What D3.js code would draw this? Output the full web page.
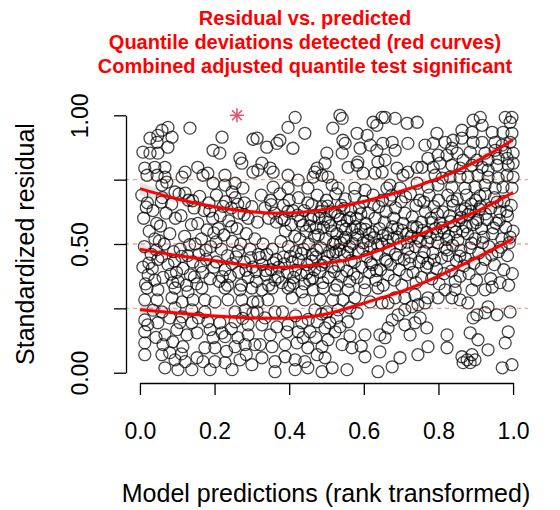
<!DOCTYPE html>
<html>
<head>
<meta charset="utf-8">
<script src="https://cdn.jsdelivr.net/npm/d3@7"></script>
<style>
  html, body { margin: 0; padding: 0; background: #fff; }
  svg { display: block; font-family: "Liberation Sans", Arial, Helvetica, sans-serif; }
</style>
</head>
<body>
<svg id="chart" width="560" height="510"></svg>
<script>
// Scaled (simulation-based) residuals against rank-transformed predictions
const titleLines = [
  "Residual vs. predicted",
  "Quantile deviations detected (red curves)",
  "Combined adjusted quantile test significant"
];
const xLabel = "Model predictions (rank transformed)";
const yLabel = "Standardized residual";

const xTicks = [0, 0.2, 0.4, 0.6, 0.8, 1.0];
const xTickLabels = ["0.0", "0.2", "0.4", "0.6", "0.8", "1.0"];
const yTicks = [0, 0.25, 0.5, 0.75, 1.0];
const yTickLabels = ["0.00", "", "0.50", "", "1.00"];

// reference quantile levels (dashed lines)
const refQuantiles = [0.25, 0.5, 0.75];

// fitted quantile regression curves and their confidence bands
const quantX = [0, 0.1, 0.2, 0.3, 0.4, 0.5, 0.6, 0.7, 0.8, 0.9, 1.0];
const q25 = [0.245, 0.232, 0.22, 0.213, 0.212, 0.228, 0.27, 0.315, 0.375, 0.445, 0.52];
const q50 = [0.48, 0.455, 0.435, 0.415, 0.41, 0.425, 0.455, 0.51, 0.565, 0.625, 0.70];
const q75 = [0.715, 0.675, 0.645, 0.625, 0.62, 0.635, 0.665, 0.705, 0.755, 0.82, 0.905];
const q25Lo = [0.225, 0.222, 0.21, 0.203, 0.202, 0.218, 0.26, 0.305, 0.365, 0.43, 0.50];
const q25Hi = [0.275, 0.245, 0.23, 0.223, 0.222, 0.238, 0.28, 0.325, 0.385, 0.46, 0.54];
const q50Lo = [0.46, 0.445, 0.425, 0.405, 0.40, 0.415, 0.445, 0.50, 0.55, 0.605, 0.67];
const q50Hi = [0.50, 0.465, 0.445, 0.425, 0.42, 0.435, 0.465, 0.52, 0.575, 0.64, 0.72];
const q75Lo = [0.69, 0.66, 0.635, 0.615, 0.61, 0.625, 0.655, 0.695, 0.745, 0.805, 0.885];
const q75Hi = [0.74, 0.69, 0.655, 0.635, 0.63, 0.645, 0.675, 0.715, 0.765, 0.835, 0.925];

// outlier (simulation envelope exceeded)
const outliers = [[0.26, 1.0]];

// observations: [rank-transformed prediction, scaled residual]
const residualsUpper = [
  [0.075,0.953],[0.059,0.942],[0.048,0.922],[0.027,0.911],[0.086,0.915],[0.046,0.895],[0.075,0.876],
  [0.008,0.857],[0.027,0.853],[0.048,0.853],[0.134,0.950],[0.22,0.915],[0.303,0.907],[0.196,0.864],
  [0.214,0.853],[0.268,0.833],[0.273,0.814],[0.303,0.779],[0.013,0.795],[0.04,0.798],[0.067,0.798],
  [0.019,0.767],[0.046,0.767],[0.067,0.76],[0.121,0.779],[0.155,0.798],[0.182,0.775],[0.228,0.767],
  [0.255,0.736],[0.276,0.717],[0.059,0.729],[0.072,0.74],[0.113,0.76],[0.169,0.767],[0.196,0.736],
  [0.228,0.729],[0.094,0.702],[0.121,0.698],[0.247,0.702],
  [0.416,0.992],[0.397,0.953],[0.442,0.93],[0.536,1.0],[0.542,0.988],[0.517,0.95],[0.625,0.973],
  [0.649,0.992],[0.635,0.961],[0.314,0.911],[0.34,0.876],[0.367,0.891],[0.375,0.903],[0.41,0.872],
  [0.501,0.853],[0.542,0.853],[0.544,0.903],[0.55,0.891],[0.582,0.93],[0.609,0.922],[0.59,0.872],
  [0.617,0.884],[0.651,0.891],[0.635,0.864],[0.327,0.814],[0.349,0.795],[0.316,0.787],[0.357,0.779],
  [0.496,0.814],[0.475,0.795],[0.469,0.779],[0.488,0.767],[0.504,0.76],[0.464,0.76],[0.558,0.798],
  [0.582,0.806],[0.584,0.818],[0.638,0.818],[0.649,0.779],[0.63,0.775],[0.598,0.775],[0.397,0.767],
  [0.357,0.721],[0.397,0.717],[0.424,0.748],[0.45,0.717],[0.515,0.729],[0.531,0.717],[0.576,0.717],
  [0.603,0.709],[0.662,0.717],
  [0.684,0.988],[0.716,0.969],[0.743,0.973],[0.657,0.992],[0.912,0.992],[0.893,0.981],[0.917,0.961],
  [0.979,0.992],[0.997,0.992],[0.992,0.973],[0.796,0.93],[0.863,0.942],[0.89,0.934],[0.944,0.934],
  [0.973,0.934],[0.997,0.93],[0.676,0.895],[0.684,0.864],[0.718,0.891],[0.764,0.884],[0.786,0.891],
  [0.818,0.895],[0.839,0.903],[0.863,0.911],[0.893,0.895],[0.917,0.895],[0.952,0.895],[0.971,0.884],
  [0.992,0.895],[0.836,0.872],[0.85,0.853],[0.885,0.857],[0.925,0.853],[0.952,0.864],[0.979,0.857],
  [1.0,0.853],[0.772,0.833],[0.799,0.845],[0.823,0.845],[0.866,0.826],[0.903,0.826],[0.933,0.826],
  [0.96,0.833],[0.984,0.833],[0.657,0.826],[0.689,0.795],[0.743,0.798],[0.756,0.798],[0.786,0.798],
  [0.804,0.814],[0.836,0.806],[0.858,0.795],[0.89,0.806],[0.917,0.798],[0.933,0.787],[0.957,0.806],
  [0.987,0.806],[1.0,0.814],[0.705,0.767],[0.718,0.779],[0.791,0.767],[0.81,0.756],[0.831,0.76],
  [0.858,0.76],[0.879,0.76],[0.906,0.767],[0.933,0.76],[0.96,0.756],[0.984,0.767],[1.0,0.76],
  [0.67,0.729],[0.697,0.717],[0.743,0.736],[0.772,0.721],[0.799,0.729],[0.836,0.721],[0.871,0.717],
  [0.898,0.721],[0.925,0.729],[0.952,0.717],[0.973,0.721],[0.997,0.717]
];

const residualsMiddle = [
  [0.005,0.69],[0.02,0.66],[0.035,0.63],[0.01,0.6],[0.045,0.58],[0.025,0.55],[0.04,0.52],[0.012,0.49],
  [0.03,0.46],[0.048,0.44],[0.008,0.41],[0.022,0.38],[0.04,0.36],[0.015,0.345],
  [0.06,0.68],[0.085,0.655],[0.07,0.62],[0.095,0.6],[0.055,0.57],[0.08,0.54],[0.065,0.5],[0.09,0.47],
  [0.058,0.45],[0.075,0.42],[0.098,0.39],[0.062,0.37],[0.088,0.35],
  [0.105,0.695],[0.13,0.67],[0.145,0.64],[0.11,0.61],[0.138,0.575],[0.12,0.53],[0.148,0.5],[0.108,0.48],
  [0.128,0.455],[0.142,0.43],[0.115,0.405],[0.135,0.38],[0.102,0.355],[0.125,0.34],
  [0.16,0.685],[0.185,0.66],[0.172,0.63],[0.195,0.6],[0.155,0.58],[0.18,0.555],[0.165,0.52],[0.19,0.49],
  [0.158,0.46],[0.178,0.44],[0.198,0.41],[0.168,0.39],[0.188,0.365],[0.152,0.345],
  [0.205,0.69],[0.23,0.665],[0.245,0.64],[0.215,0.61],[0.238,0.59],[0.21,0.56],[0.225,0.535],[0.248,0.51],
  [0.218,0.48],[0.235,0.455],[0.205,0.43],[0.228,0.4],[0.242,0.375],[0.212,0.355],[0.235,0.34],
  [0.255,0.68],[0.28,0.66],[0.3,0.645],[0.265,0.62],[0.29,0.6],[0.315,0.585],[0.26,0.56],[0.285,0.54],
  [0.308,0.52],[0.27,0.5],[0.295,0.48],[0.318,0.46],[0.258,0.45],[0.28,0.43],[0.302,0.41],[0.265,0.39],
  [0.29,0.37],[0.312,0.355],[0.272,0.34],
  [0.325,0.69],[0.35,0.67],[0.335,0.64],[0.36,0.62],[0.345,0.6],[0.33,0.5],[0.355,0.48],[0.34,0.46],
  [0.365,0.44],[0.328,0.42],[0.352,0.4],[0.338,0.38],[0.362,0.36],[0.345,0.34],
  [0.375,0.695],[0.4,0.67],[0.385,0.65],[0.41,0.63],[0.38,0.6],[0.405,0.575],[0.39,0.55],[0.415,0.53],
  [0.378,0.51],[0.398,0.49],[0.418,0.47],[0.385,0.45],[0.408,0.43],[0.372,0.41],[0.395,0.39],[0.412,0.37],
  [0.38,0.35],[0.402,0.34],
  [0.425,0.68],[0.45,0.66],[0.44,0.63],[0.465,0.61],[0.43,0.59],[0.455,0.57],[0.445,0.55],[0.468,0.53],
  [0.428,0.52],[0.452,0.5],[0.438,0.48],[0.462,0.46],[0.425,0.44],[0.448,0.42],[0.468,0.4],[0.432,0.38],
  [0.455,0.36],[0.44,0.345],
  [0.475,0.69],[0.5,0.67],[0.488,0.645],[0.512,0.625],[0.48,0.6],[0.505,0.585],[0.492,0.565],[0.515,0.55],
  [0.478,0.535],[0.498,0.52],[0.518,0.5],[0.485,0.485],[0.508,0.47],[0.472,0.45],[0.495,0.43],[0.515,0.41],
  [0.482,0.39],[0.505,0.37],[0.49,0.35],
  [0.525,0.695],[0.55,0.675],[0.54,0.65],[0.565,0.63],[0.53,0.61],[0.555,0.59],[0.542,0.57],[0.568,0.555],
  [0.528,0.54],[0.552,0.525],[0.538,0.505],[0.562,0.49],[0.525,0.47],[0.548,0.455],[0.566,0.435],[0.532,0.415],
  [0.555,0.395],[0.54,0.375],[0.562,0.355],[0.528,0.34],
  [0.575,0.685],[0.6,0.665],[0.588,0.64],[0.612,0.62],[0.58,0.6],[0.605,0.58],[0.592,0.56],[0.615,0.54],
  [0.578,0.52],[0.598,0.505],[0.618,0.49],[0.585,0.47],[0.608,0.45],[0.575,0.43],[0.595,0.41],[0.615,0.39],
  [0.582,0.37],[0.602,0.35],
  [0.625,0.69],[0.65,0.67],[0.64,0.645],[0.66,0.625],[0.63,0.6],[0.655,0.585],[0.642,0.56],[0.665,0.54],
  [0.628,0.525],[0.648,0.5],[0.668,0.48],[0.635,0.46],[0.658,0.44],[0.622,0.42],[0.645,0.4],[0.665,0.38],
  [0.632,0.36],[0.652,0.34],
  [0.675,0.69],[0.7,0.665],[0.685,0.64],[0.71,0.62],[0.68,0.6],[0.705,0.58],[0.69,0.56],[0.715,0.54],
  [0.678,0.52],[0.698,0.5],[0.718,0.48],[0.685,0.46],[0.708,0.44],[0.672,0.42],[0.695,0.4],[0.715,0.38],
  [0.682,0.36],[0.702,0.34],
  [0.725,0.695],[0.75,0.67],[0.74,0.65],[0.765,0.625],[0.73,0.605],[0.755,0.585],[0.742,0.565],[0.768,0.545],
  [0.728,0.53],[0.752,0.51],[0.738,0.49],[0.762,0.47],[0.725,0.45],[0.748,0.43],[0.768,0.41],[0.732,0.39],
  [0.755,0.37],[0.74,0.35],
  [0.775,0.69],[0.8,0.67],[0.788,0.645],[0.812,0.625],[0.78,0.6],[0.805,0.58],[0.792,0.56],[0.815,0.545],
  [0.778,0.525],[0.798,0.505],[0.818,0.485],[0.785,0.465],[0.808,0.445],[0.772,0.425],[0.795,0.405],[0.815,0.385],
  [0.782,0.365],[0.802,0.345],
  [0.825,0.69],[0.85,0.675],[0.84,0.65],[0.862,0.63],[0.83,0.61],[0.855,0.59],[0.842,0.57],[0.865,0.55],
  [0.828,0.53],[0.852,0.515],[0.838,0.495],[0.86,0.475],[0.825,0.455],[0.848,0.435],[0.868,0.415],[0.835,0.395],
  [0.858,0.375],[0.845,0.355],
  [0.875,0.69],[0.9,0.67],[0.888,0.655],[0.91,0.635],[0.88,0.615],[0.905,0.595],[0.892,0.575],[0.915,0.56],
  [0.878,0.54],[0.898,0.52],[0.918,0.505],[0.885,0.485],[0.908,0.465],[0.872,0.445],[0.895,0.425],[0.915,0.405],
  [0.882,0.385],[0.902,0.36],
  [0.925,0.695],[0.95,0.68],[0.975,0.665],[0.995,0.65],[0.94,0.64],[0.965,0.625],[0.985,0.61],[0.93,0.595],
  [0.955,0.58],[0.98,0.565],[1.0,0.55],[0.945,0.54],[0.97,0.52],[0.99,0.505],[0.935,0.49],[0.96,0.47],
  [0.985,0.455],[0.925,0.44],[0.95,0.42],[0.975,0.4],[0.998,0.385],[0.94,0.365],[0.965,0.35],[0.988,0.34]
];

// denser core between the lower and upper quantile curves
const residualsCore = [
  [0.017,0.643],[0.052,0.512],[0.033,0.405],[0.083,0.383],[0.112,0.452],[0.146,0.372],[0.177,0.476],
  [0.204,0.508],[0.221,0.373],[0.247,0.424],[0.263,0.472],[0.284,0.398],[0.297,0.447],[0.311,0.393],
  [0.163,0.414],[0.133,0.497],[0.093,0.433],[0.044,0.477],[0.024,0.426],[0.187,0.628],[0.223,0.646],
  [0.262,0.655],[0.246,0.567],[0.279,0.614],[0.198,0.543],[0.141,0.668],[0.057,0.663],
  [0.322,0.447],[0.337,0.397],[0.358,0.427],[0.371,0.372],[0.387,0.423],[0.403,0.452],[0.417,0.398],
  [0.433,0.463],[0.447,0.387],[0.461,0.433],[0.473,0.477],[0.487,0.418],[0.502,0.452],[0.517,0.463],
  [0.523,0.507],[0.535,0.478],[0.547,0.517],[0.557,0.468],[0.571,0.502],[0.583,0.536],[0.597,0.482],
  [0.387,0.593],[0.397,0.627],[0.423,0.612],[0.437,0.573],[0.458,0.597],[0.472,0.563],[0.483,0.626],
  [0.497,0.597],[0.511,0.571],[0.523,0.623],[0.537,0.597],[0.551,0.557],[0.563,0.602],[0.577,0.568],
  [0.592,0.617],[0.604,0.557],[0.352,0.653],[0.366,0.585],[0.461,0.653],[0.503,0.647],[0.547,0.638],
  [0.412,0.347],[0.463,0.368],[0.521,0.393],[0.573,0.383],
  [0.612,0.512],[0.624,0.547],[0.637,0.497],[0.651,0.533],[0.663,0.512],[0.677,0.567],[0.689,0.527],
  [0.703,0.553],[0.717,0.507],[0.731,0.567],[0.744,0.523],[0.757,0.553],[0.771,0.507],[0.783,0.583],
  [0.796,0.537],[0.809,0.563],[0.822,0.517],[0.833,0.587],[0.847,0.547],[0.861,0.603],[0.874,0.567],
  [0.887,0.627],[0.901,0.583],[0.913,0.647],[0.926,0.617],[0.618,0.427],[0.634,0.397],[0.662,0.433],
  [0.691,0.447],[0.723,0.423],[0.757,0.447],[0.789,0.437],[0.823,0.477],[0.857,0.453],[0.889,0.503],
  [0.921,0.527],[0.947,0.563],[0.963,0.593],[0.983,0.627],[0.943,0.457],[0.968,0.487],[0.992,0.527],
  [0.627,0.653],[0.671,0.673],[0.712,0.683],[0.761,0.663],[0.797,0.617],[0.837,0.667],[0.872,0.637],
  [0.911,0.687],[0.957,0.663],
  [0.035,0.243],[0.107,0.195],[0.157,0.213],[0.245,0.171],[0.275,0.211],[0.335,0.213],[0.382,0.236],
  [0.417,0.221],[0.451,0.207],[0.487,0.228],[0.527,0.213],[0.582,0.231],[0.043,0.137],[0.111,0.073],
  [0.232,0.083],[0.285,0.071],[0.471,0.137],[0.563,0.143],[0.593,0.103]
];

const residualsLower = [
  [0.019,0.329],[0.048,0.322],[0.094,0.329],[0.129,0.314],[0.166,0.329],[0.228,0.329],[0.268,0.322],[0.3,0.329],
  [0.013,0.283],[0.046,0.283],[0.086,0.291],[0.113,0.275],[0.142,0.283],[0.174,0.283],[0.201,0.275],[0.236,0.283],
  [0.273,0.283],[0.303,0.275],[0.013,0.205],[0.021,0.186],[0.048,0.194],[0.08,0.213],[0.113,0.217],[0.139,0.194],
  [0.182,0.198],[0.214,0.194],[0.255,0.198],[0.29,0.186],[0.013,0.159],[0.067,0.147],[0.099,0.167],[0.126,0.147],
  [0.153,0.155],[0.188,0.167],[0.196,0.136],[0.22,0.155],[0.228,0.14],[0.263,0.136],[0.29,0.147],[0.308,0.109],
  [0.013,0.116],[0.062,0.109],[0.088,0.12],[0.115,0.101],[0.174,0.097],[0.201,0.097],[0.255,0.101],[0.282,0.109],
  [0.013,0.07],[0.059,0.07],[0.08,0.078],[0.094,0.05],[0.121,0.043],[0.153,0.058],[0.169,0.043],[0.201,0.043],
  [0.228,0.039],[0.268,0.05],[0.3,0.031],[0.067,0.019],[0.102,0.012],[0.139,0.012],[0.188,0.012],[0.247,0.012],
  [0.059,0.236],[0.094,0.252],[0.139,0.244],[0.174,0.236],[0.255,0.236],[0.282,0.244],[0.303,0.233],
  [0.327,0.322],[0.354,0.329],[0.397,0.329],[0.434,0.314],[0.464,0.322],[0.491,0.329],[0.523,0.322],[0.558,0.322],
  [0.603,0.322],[0.638,0.329],[0.316,0.275],[0.343,0.283],[0.408,0.291],[0.442,0.283],[0.483,0.283],[0.517,0.283],
  [0.544,0.283],[0.576,0.291],[0.617,0.275],[0.649,0.271],[0.327,0.186],[0.367,0.178],[0.397,0.186],[0.434,0.194],
  [0.475,0.198],[0.509,0.194],[0.536,0.178],[0.558,0.198],[0.603,0.147],[0.643,0.147],[0.322,0.109],[0.354,0.101],
  [0.389,0.109],[0.421,0.116],[0.437,0.136],[0.45,0.097],[0.488,0.101],[0.504,0.128],[0.542,0.109],[0.568,0.097],
  [0.643,0.081],[0.327,0.058],[0.362,0.043],[0.389,0.062],[0.416,0.05],[0.442,0.043],[0.475,0.07],[0.496,0.058],
  [0.515,0.019],[0.555,0.012],[0.603,0.062],[0.362,0.004],[0.416,0.012],[0.45,0.019],[0.488,0.004],[0.638,0.004],
  [0.394,0.159],[0.424,0.159],[0.456,0.159],[0.496,0.174],[0.523,0.159],[0.349,0.147],[0.314,0.236],[0.362,0.236],
  [0.469,0.244],[0.501,0.236],[0.531,0.244],[0.563,0.252],
  [0.818,0.322],[0.845,0.322],[0.89,0.322],[0.925,0.322],[0.944,0.333],[0.772,0.291],[0.799,0.291],[0.836,0.291],
  [0.858,0.283],[0.879,0.271],[0.933,0.256],[0.903,0.225],[0.893,0.213],[0.925,0.233],[0.957,0.225],[0.992,0.236],
  [0.665,0.174],[0.71,0.186],[0.724,0.147],[0.737,0.194],[0.751,0.213],[0.769,0.174],[0.823,0.147],[0.885,0.155],
  [0.906,0.128],[0.933,0.089],[0.987,0.159],[0.979,0.116],[0.772,0.101],[0.823,0.097],[0.745,0.07],[0.697,0.058],
  [0.676,0.023],[0.863,0.062],[0.877,0.05],[0.89,0.07],[0.885,0.039],[0.866,0.039],[0.898,0.05],[0.971,0.019],
  [0.997,0.031],[0.657,0.136],[0.676,0.205],[0.692,0.225],[0.71,0.244],[0.729,0.256],[0.745,0.264],[0.764,0.271],
  [0.665,0.271],[0.684,0.291],[0.71,0.291],[0.737,0.302]
];

const observations = residualsUpper.concat(residualsMiddle, residualsCore, residualsLower);

// ---- layout ----
const svg = d3.select("#chart");
const plot = { left: 125, right: 528, top: 105, bottom: 383 };

const x = d3.scaleLinear().domain([-0.04, 1.04]).range([plot.left, plot.right]);
const y = d3.scaleLinear().domain([-0.04, 1.04]).range([plot.bottom, plot.top]);

// title
svg.append("g")
  .selectAll("text")
  .data(titleLines)
  .join("text")
  .attr("x", 305)
  .attr("y", (d, i) => 25 + i * 24)
  .attr("text-anchor", "middle")
  .attr("font-size", 20)
  .attr("font-weight", "bold")
  .attr("fill", "#ff0000")
  .text(d => d);

// confidence bands of the quantile curves
const bands = [[q25Lo, q25Hi], [q50Lo, q50Hi], [q75Lo, q75Hi]];
const bandArea = d3.area()
  .x(d => x(d.x))
  .y0(d => y(d.lo))
  .y1(d => y(d.hi))
  .curve(d3.curveNatural);
svg.append("g")
  .selectAll("path")
  .data(bands)
  .join("path")
  .attr("d", ([lo, hi]) => bandArea(quantX.map((v, i) => ({ x: v, lo: lo[i], hi: hi[i] }))))
  .attr("fill", "#d3d3d3")
  .attr("fill-opacity", 0.6);

// observations
svg.append("g")
  .selectAll("circle")
  .data(observations)
  .join("circle")
  .attr("cx", d => x(d[0]))
  .attr("cy", d => y(d[1]))
  .attr("r", 6)
  .attr("fill", "none")
  .attr("stroke", "rgba(0,0,0,0.72)")
  .attr("stroke-width", 1.3);

// outliers as asterisks
const star = svg.append("g")
  .selectAll("g")
  .data(outliers)
  .join("g")
  .attr("transform", d => `translate(${x(d[0])},${y(d[1])})`)
  .attr("stroke", "#e0506e")
  .attr("stroke-width", 1.5);
[[0, -7, 0, 7], [-7, 0, 7, 0], [-5, -5, 5, 5], [-5, 5, 5, -5]].forEach(s => {
  star.append("line").attr("x1", s[0]).attr("y1", s[1]).attr("x2", s[2]).attr("y2", s[3]);
});

// dashed reference quantiles
svg.append("g")
  .selectAll("line")
  .data(refQuantiles)
  .join("line")
  .attr("x1", plot.left)
  .attr("x2", plot.right)
  .attr("y1", d => y(d))
  .attr("y2", d => y(d))
  .attr("stroke", "rgba(255,0,0,0.4)")
  .attr("stroke-width", 1.3)
  .attr("stroke-dasharray", "4,4");

// quantile regression curves
const qLine = d3.line().x(d => x(d[0])).y(d => y(d[1])).curve(d3.curveNatural);
svg.append("g")
  .selectAll("path")
  .data([q25, q50, q75])
  .join("path")
  .attr("d", q => qLine(quantX.map((v, i) => [v, q[i]])))
  .attr("fill", "none")
  .attr("stroke", "#ff0000")
  .attr("stroke-width", 3);

// axes: lines span the first to last tick only
const xAxisScale = d3.scaleLinear().domain([0, 1]).range([x(0), x(1)]);
const yAxisScale = d3.scaleLinear().domain([0, 1]).range([y(0), y(1)]);

const xAxis = svg.append("g")
  .attr("transform", `translate(0,${plot.bottom})`)
  .call(d3.axisBottom(xAxisScale)
    .tickValues(xTicks)
    .tickSize(12)
    .tickSizeOuter(0)
    .tickPadding(28)
    .tickFormat((d, i) => xTickLabels[i]));
xAxis.selectAll("text").attr("font-size", 23).attr("fill", "#000").attr("font-family", "Liberation Sans, Arial, sans-serif");

const yAxis = svg.append("g")
  .attr("transform", `translate(${plot.left + 1},0)`)
  .call(d3.axisLeft(yAxisScale)
    .tickValues(yTicks)
    .tickSize(12)
    .tickSizeOuter(0)
    .tickFormat((d, i) => yTickLabels[i]));
yAxis.selectAll(".tick text")
  .attr("font-size", 23)
  .attr("fill", "#000")
  .attr("font-family", "Liberation Sans, Arial, sans-serif")
  .attr("text-anchor", "middle")
  .attr("x", 0)
  .attr("y", 8)
  .attr("dy", 0)
  .attr("transform", "translate(-46,0) rotate(-90)");

[xAxis, yAxis].forEach(a => {
  a.selectAll("path, line").attr("stroke", "#000").attr("stroke-width", 1.3);
});

// axis titles
svg.append("text")
  .attr("x", 326)
  .attr("y", 502)
  .attr("text-anchor", "middle")
  .attr("font-size", 25)
  .attr("fill", "#000")
  .text(xLabel);

svg.append("text")
  .attr("transform", `translate(34,${y(0.5)}) rotate(-90)`)
  .attr("text-anchor", "middle")
  .attr("font-size", 25)
  .attr("fill", "#000")
  .text(yLabel);
</script>
</body>
</html>
